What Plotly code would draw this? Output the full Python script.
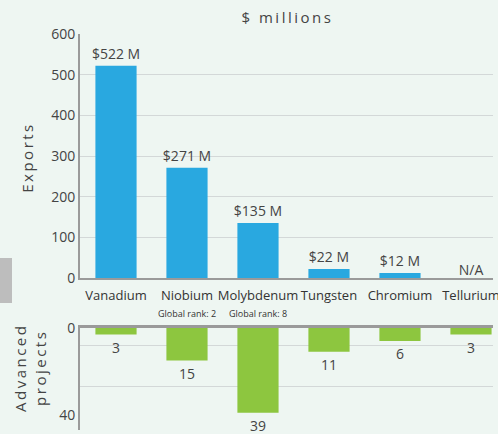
import plotly.graph_objects as go

categories = ["Vanadium", "Niobium", "Molybdenum", "Tungsten", "Chromium", "Tellurium"]
subtitles = ["", "Global rank: 2", "Global rank: 8", "", "", ""]
exports = [522, 271, 135, 22, 12, None]
export_labels = ["$522 M", "$271 M", "$135 M", "$22 M", "$12 M", "N/A"]
projects = [3, 15, 39, 11, 6, 3]
project_labels = ["3", "15", "39", "11", "6", "3"]

FONT = "Open Sans"
TXT = "#444444"
W, H = 498, 434

def px_y(p):
    return 1 - p / H

ticktext = []
for c, s in zip(categories, subtitles):
    if s:
        ticktext.append(f"{c}<br><span style='font-size:9px'>{s}</span>")
    else:
        ticktext.append(f"{c}<br> ")

exp_vals = [v if v is not None else 0 for v in exports]
exp_text = [l if v is not None else "" for v, l in zip(exports, export_labels)]
na_x = [c for c, v in zip(categories, exports) if v is None]
na_text = [l for v, l in zip(exports, export_labels) if v is None]

fig = go.Figure()
fig.add_trace(go.Bar(
    x=categories, y=exp_vals, text=exp_text, textposition="outside",
    constraintext="none",
    marker=dict(color="#29a8e0", line=dict(width=0)), width=0.58,
    textfont=dict(family=FONT, size=14, color=TXT), cliponaxis=False,
    xaxis="x", yaxis="y", showlegend=False, hoverinfo="skip",
))
fig.add_trace(go.Scatter(
    x=na_x, y=[0] * len(na_x), text=na_text, mode="text",
    textposition="top center", textfont=dict(family=FONT, size=14, color=TXT),
    cliponaxis=False, xaxis="x", yaxis="y", showlegend=False, hoverinfo="skip",
))
fig.add_trace(go.Bar(
    x=categories, y=projects, text=project_labels, textposition="outside",
    constraintext="none",
    marker=dict(color="#8dc63f", line=dict(width=0)), width=0.58,
    textfont=dict(family=FONT, size=14, color=TXT), cliponaxis=False,
    xaxis="x2", yaxis="y2", showlegend=False, hoverinfo="skip",
))

xdom = [80 / W, 493 / W]
xr = [-0.507, 5.31]

fig.update_layout(
    width=W, height=H,
    margin=dict(l=0, r=0, t=0, b=0, autoexpand=False),
    paper_bgcolor="#eef6f2", plot_bgcolor="rgba(0,0,0,0)",
    font=dict(family=FONT, color=TXT),
    xaxis=dict(
        domain=xdom, range=xr, anchor="y", automargin=False,
        tickvals=categories, ticktext=ticktext, tickangle=0,
        tickfont=dict(family=FONT, size=13, color="#333333"),
        showline=True, linecolor="#9a9a9a", linewidth=2,
        showgrid=False, ticks="", ticklen=0, ticklabelstandoff=4,
    ),
    yaxis=dict(
        domain=[px_y(278), px_y(34)], range=[0, 600], dtick=100,
        anchor="x", automargin=False, showline=True, linecolor="#9a9a9a", linewidth=2,
        gridcolor="#d3d8d8", gridwidth=1, zeroline=False,
        tickfont=dict(family=FONT, size=14, color=TXT), ticks="",
    ),
    xaxis2=dict(
        domain=xdom, range=xr, anchor="y2", side="top", automargin=False,
        showticklabels=False, showline=True, linecolor="#9a9a9a", linewidth=3,
        showgrid=False, ticks="",
    ),
    yaxis2=dict(
        domain=[px_y(430), px_y(328)], range=[47, 0],
        tickvals=[0, 40], anchor="x2", automargin=False,
        showline=True, linecolor="#9a9a9a", linewidth=2,
        showgrid=False, zeroline=False,
        minor=dict(tickvals=[8, 27], showgrid=True, gridcolor="#d3d8d8", gridwidth=1, ticks=""),
        tickfont=dict(family=FONT, size=14, color=TXT), ticks="",
    ),
    annotations=[
        dict(text="$ millions", xref="paper", yref="paper", x=287 / W, y=px_y(17),
             xanchor="center", yanchor="middle",
             showarrow=False, font=dict(family=FONT, size=15, color=TXT)),
        dict(text="Exports", xref="paper", yref="paper", x=27 / W, y=px_y(158),
             xanchor="center", yanchor="middle",
             textangle=-90, showarrow=False, font=dict(family=FONT, size=15, color=TXT)),
        dict(text="Advanced<br>projects", xref="paper", yref="paper", x=30 / W, y=px_y(368),
             xanchor="center", yanchor="middle",
             textangle=-90, showarrow=False, font=dict(family=FONT, size=15, color=TXT)),
    ],
    shapes=[
        dict(type="rect", xref="paper", yref="paper", x0=0, x1=12 / W,
             y0=px_y(303), y1=px_y(258), fillcolor="#bdbdbd", line=dict(width=0), layer="below"),
    ],
)

post = (
    "document.body.style.margin='0';document.body.style.overflow='hidden';"
    "document.querySelectorAll('.annotation-text').forEach(function(e){e.style.letterSpacing='2.5px';});"
)
fig.write_html("out.html", config={"displayModeBar": False, "staticPlot": True}, post_script=post)
